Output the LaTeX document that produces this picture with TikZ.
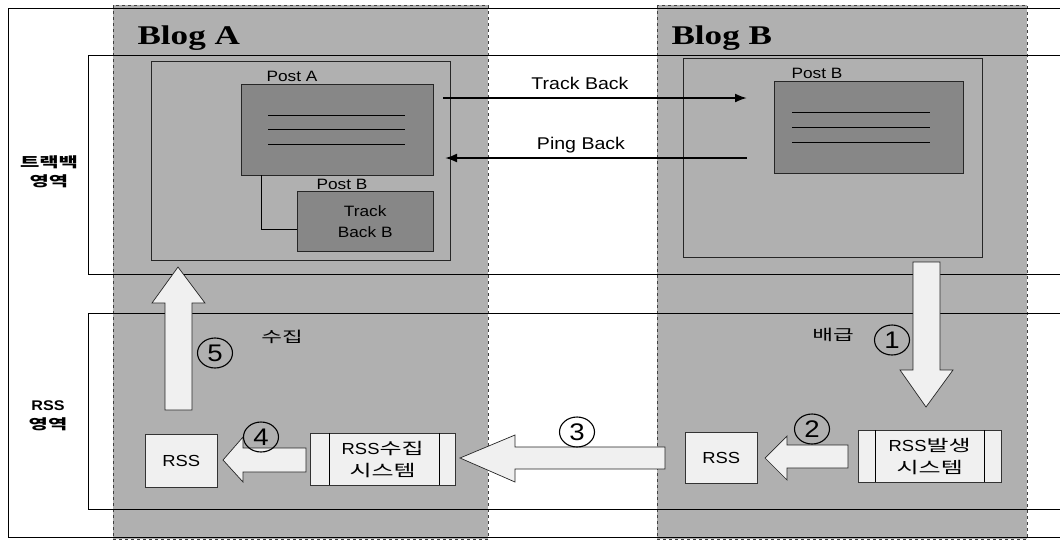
\documentclass[tikz,border=0pt]{standalone}
\usepackage{fontspec}
\setmainfont{Liberation Sans}[FakeStretch=1.15]
\newfontfamily\krfont{Noto Sans CJK KR}[FakeStretch=1.5]
\newfontfamily\blogfont{Liberation Serif}[FakeStretch=1.3]
\usetikzlibrary{positioning,arrows.meta,shapes.geometric}

\definecolor{panelgray}{HTML}{B0B0B0}
\definecolor{postgray}{HTML}{878787}
\definecolor{boxwhite}{HTML}{F0F0F0}

\begin{document}
\begin{tikzpicture}[x=1pt,y=-1pt,>=Latex,
  panel/.style={draw=black!75,dashed,fill=panelgray},
  areabox/.style={draw=black!85,anchor=north west,inner sep=0pt},
  postbox/.style={draw=black!85,fill=postgray,anchor=north west,inner sep=0pt},
  rssbox/.style={draw=black!80,fill=boxwhite,anchor=north west,inner sep=0pt,
    align=center,font=\fontsize{16}{22}\selectfont},
  bigarrow/.style={draw=black!85,fill=boxwhite,line width=0.7pt},
  num/.style={draw,ellipse,line width=1.1pt,minimum width=35pt,minimum height=30pt,
    inner sep=0pt,font=\fontsize{24}{24}\selectfont},
  small/.style={font=\fontsize{15}{17}\selectfont},
  side/.style={align=center,font=\bfseries\fontsize{14}{19}\selectfont}]
  \useasboundingbox (0,0) rectangle (1060,539);

  % The two blogs are grey columns.
  \filldraw[panel] (113,5) rectangle (488,539);
  \filldraw[panel] (657,5) rectangle (1027,539);
  \node[anchor=base west,font=\blogfont\bfseries\fontsize{27}{27}\selectfont] (titleA) at (134,44) {Blog A};
  \node[anchor=base west,font=\blogfont\bfseries\fontsize{27}{27}\selectfont] (titleB) at (668,44) {Blog B};

  % Outer frame and the two horizontal areas.
  \draw (1060,8) -- (8,8) -- (8,537) -- (1060,537);
  \draw (1060,55) -- (88,55) -- (88,274) -- (1060,274);
  \draw (1060,313) -- (88,313) -- (88,509) -- (1060,509);
  \node[side] (tbarea) at (49,172) {{\krfont 트랙백}\\{\krfont 영역}};
  \node[side] (rssarea) at (48,416) {RSS\\{\krfont 영역}};

  % Blog A: post with its track back.
  \node[areabox,minimum width=299pt,minimum height=199pt] (innerA) at (151,61) {};
  \node[postbox,minimum width=192pt,minimum height=91pt] (postA) at (241,84) {};
  \node[small] (postAlabel) at (292,76) {Post A};
  \foreach \y in {115,129,144} {
    \draw[line width=1pt] (268,\y) -- (405,\y);
  }
  \node[postbox,minimum width=136pt,minimum height=60pt,align=center,
    font=\fontsize{15}{21}\selectfont] (tbB) at (297,191) {Track\\Back B};
  \node[small] (postBlabelA) at (342,184) {Post B};
  \draw ([xshift=20pt]postA.south west) |- ([yshift=-8pt]tbB.west);

  % Blog B: the post.
  \node[areabox,minimum width=299pt,minimum height=199pt] (innerB) at (683,58) {};
  \node[postbox,minimum width=189pt,minimum height=92pt] (postB) at (774,81) {};
  \node[small] (postBlabel) at (817,73) {Post B};
  \foreach \y in {112,127,142} {
    \draw[line width=1pt] (792,\y) -- (930,\y);
  }

  % Track back and ping back between the posts.
  \coordinate (tbFrom) at (443,98);
  \coordinate (tbTo) at (747,98);
  \coordinate (pbFrom) at (747,158);
  \coordinate (pbTo) at (445,158);
  \draw[->,line width=2pt] (tbFrom) -- (tbTo);
  \draw[->,line width=2pt] (pbFrom) -- (pbTo);
  \node[font=\fontsize{17}{19}\selectfont] (tblabel) at (580,83) {Track Back};
  \node[font=\fontsize{17}{19}\selectfont] (pblabel) at (581,145) {Ping Back};

  % RSS boxes.
  \node[rssbox,minimum width=72pt,minimum height=53pt] (rssA) at (145,434) {RSS};
  \node[rssbox,minimum width=145pt,minimum height=52pt] (sysA) at (310,433)
    {RSS{\krfont 수집}\\{\krfont 시스템}};
  \draw (329,433) -- (329,485);
  \draw (439,433) -- (439,485);
  \node[rssbox,minimum width=72pt,minimum height=51pt] (rssB) at (685,432) {RSS};
  \node[rssbox,minimum width=143pt,minimum height=52pt] (sysB) at (858,430)
    {RSS{\krfont 발생}\\{\krfont 시스템}};
  \draw (875,430) -- (875,482);
  \draw (984,430) -- (984,482);

  % Big block arrows, numbered in order.
  \filldraw[bigarrow] (913,262) -- (913,370) -- (900,370) -- (926,407)
    -- (953,370) -- (940,370) -- (940,262) -- cycle;
  \filldraw[bigarrow] (848,445) -- (787,445) -- (787,436) -- (765,458)
    -- (787,480) -- (787,468) -- (848,468) -- cycle;
  \filldraw[bigarrow] (665,447) -- (515,447) -- (515,435) -- (460,458)
    -- (515,482) -- (515,469) -- (665,469) -- cycle;
  \filldraw[bigarrow] (306,448) -- (243,448) -- (243,437) -- (223,460)
    -- (243,482) -- (243,472) -- (306,472) -- cycle;
  \filldraw[bigarrow] (165,410) -- (165,303) -- (152,303) -- (178,267)
    -- (205,303) -- (192,303) -- (192,410) -- cycle;

  \node[num] (n1) at (892,340) {1};
  \node[num] (n2) at (812,429) {2};
  \node[num] (n3) at (577,432) {3};
  \node[num] (n4) at (261,437) {4};
  \node[num] (n5) at (215,353) {5};
  \node[font=\krfont\fontsize{15}{17}\selectfont] (collect) at (282,337) {수집};
  \node[font=\krfont\fontsize{15}{17}\selectfont] (deliver) at (833,335) {배급};
\end{tikzpicture}
\end{document}
